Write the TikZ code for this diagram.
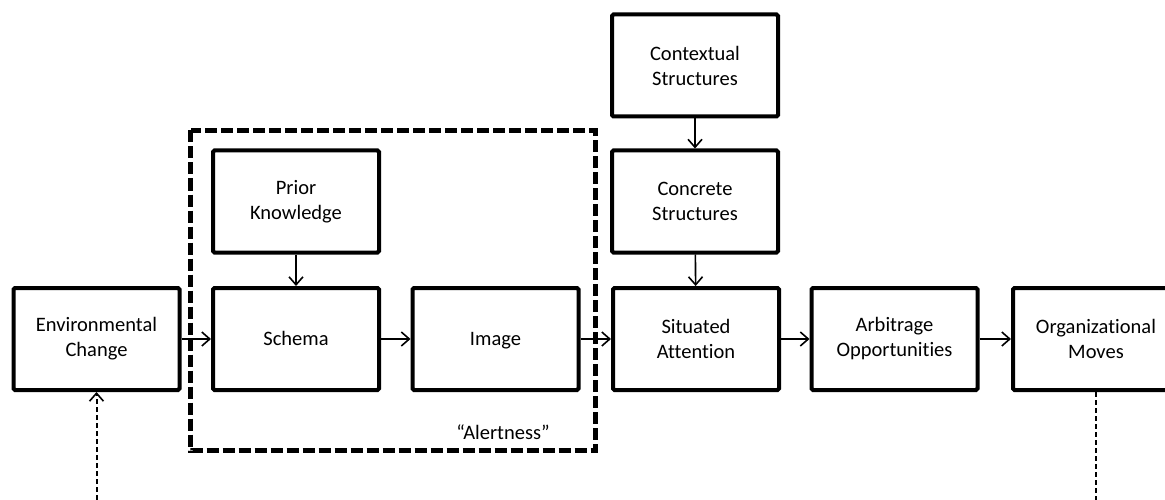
\documentclass[tikz,border=0pt]{standalone}
\usepackage{fontspec}
\setmainfont[Ligatures=NoCommon]{Carlito}
\usetikzlibrary{arrows.meta}
\begin{document}
\begin{tikzpicture}[x=1pt,y=-1pt,
  box/.style={draw=black,line width=4pt,rounded corners=1.5pt,minimum width=166pt,minimum height=102pt,
    align=center,font=\fontsize{20.5pt}{25pt}\selectfont,inner sep=0pt},
  single/.style={text height=16pt,text depth=2.8pt},
  conn/.style={line width=1.6pt,-{Straight Barb[length=8pt,width=14pt,line width=1.6pt]}},
  dotconn/.style={line width=2pt,dash pattern=on 5pt off 3pt},
  alert/.style={line width=5pt,dash pattern=on 12pt off 4pt}]
\useasboundingbox (0,0) rectangle (1165,500);
\node[box] (env) at (96.5,339) {Environmental\\Change};
\node[box,single] (schema) at (296,339) {Schema};
\node[box,single] (image) at (495.5,339) {Image};
\node[box] (prior) at (296,201.5) {Prior\\Knowledge};
\node[box] (sit) at (696,339) {Situated\\Attention};
\node[box] (conc) at (695,201.5) {Concrete\\Structures};
\node[box] (cont) at (695,65.5) {Contextual\\Structures};
\node[box] (arb) at (894.5,339) {Arbitrage\\Opportunities};
\node[box] (org) at (1096,339) {Organizational\\Moves};
\draw[alert] (190.5,130.5) rectangle (595.5,450.5);
\node[font=\fontsize{20.5pt}{25pt}\selectfont] (al) at (503,432) {“Alertness”};
\draw[conn] (env) -- (schema);
\draw[conn] (schema) -- (image);
\draw[conn] (image) -- (sit);
\draw[conn] (sit) -- (arb);
\draw[conn] (arb) -- (org);
\draw[conn] (prior) -- (schema);
\draw[conn] (cont) -- (conc);
\draw[conn] (conc) -- (sit);
\coordinate (eb) at (96.5,500);
\coordinate (ob) at (1096,500);
\draw[dotconn,-{Straight Barb[length=8pt,width=14pt,line width=1.6pt]}] (eb) -- (env.south);
\draw[dotconn] (org.south) -- (ob);
\end{tikzpicture}
\end{document}
